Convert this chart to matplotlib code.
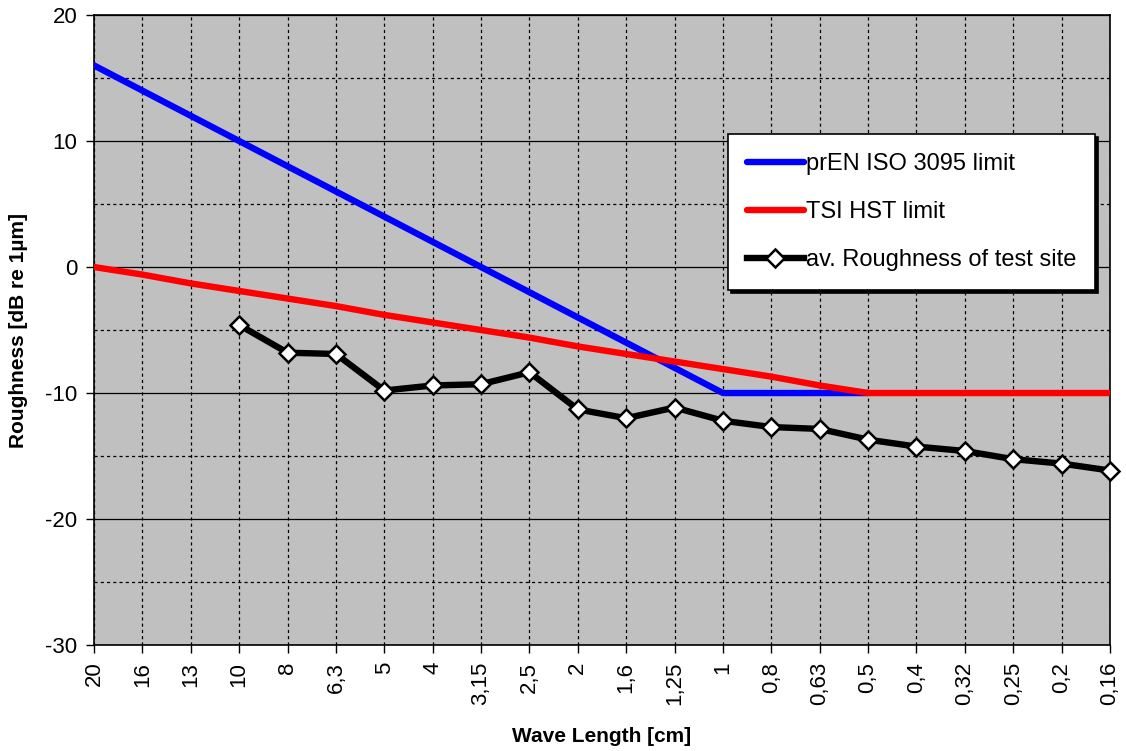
import numpy as np
import matplotlib
matplotlib.use('Agg')
import matplotlib.pyplot as plt
from matplotlib.ticker import MultipleLocator

# Wave length bands (cm) and roughness spectra in dB re 1 um
wave_labels = ['20', '16', '13', '10', '8', '6,3', '5', '4', '3,15', '2,5', '2',
               '1,6', '1,25', '1', '0,8', '0,63', '0,5', '0,4', '0,32', '0,25', '0,2', '0,16']
iso_limit = [16, 14, 12, 10, 8, 6, 4, 2, 0, -2, -4, -6, -8, -10, -10, -10, -10,
             np.nan, np.nan, np.nan, np.nan, np.nan]
tsi_limit = [0, -0.6, -1.3, -1.9, -2.5, -3.1, -3.8, -4.4, -5.0, -5.6, -6.3, -6.9,
             -7.5, -8.1, -8.7, -9.4, -10, -10, -10, -10, -10, -10]
site_rough = [np.nan, np.nan, np.nan, -4.6, -6.8, -6.9, -9.8, -9.4, -9.3, -8.35, -11.3,
              -12.0, -11.15, -12.2, -12.7, -12.85, -13.7, -14.25, -14.6, -15.25, -15.6, -16.15]

plt.rcParams['font.family'] = ['Liberation Sans', 'DejaVu Sans']
plt.rcParams['axes.unicode_minus'] = False

fig = plt.figure(figsize=(11.26, 7.51), dpi=100)
ax = fig.add_axes([0.0835, 0.1411, 0.9023, 0.8389])
ax.set_facecolor('#C0C0C0')

x = np.arange(len(wave_labels))

ax.plot(x, iso_limit, color='#0000FF', lw=4.6, solid_capstyle='round',
        label='prEN ISO 3095 limit', zorder=3)
ax.plot(x, tsi_limit, color='#FF0000', lw=4.6, solid_capstyle='round',
        label='TSI HST limit', zorder=3)
ax.plot(x, site_rough, color='black', lw=4.6, marker='D', markersize=9,
        markerfacecolor='white', markeredgecolor='black', markeredgewidth=1.8,
        label='av. Roughness of test site', zorder=4, clip_on=False)

ax.set_xlim(0, len(wave_labels) - 1)
ax.set_ylim(-30, 20)
ax.set_xticks(x)
ax.set_xticklabels(wave_labels, rotation=90, fontsize=16)
ax.yaxis.set_major_locator(MultipleLocator(10))
ax.yaxis.set_minor_locator(MultipleLocator(5))
ax.tick_params(axis='y', labelsize=16, length=6, width=1, direction='out', pad=6)
ax.tick_params(axis='y', which='minor', length=0)
ax.tick_params(axis='x', length=6, width=1, direction='out', pad=6)

# grid: solid major / dashed minor horizontals, dashed verticals
ax.grid(axis='y', which='major', color='black', lw=0.9, ls='-', zorder=1)
ax.grid(axis='y', which='minor', color='black', lw=0.9, ls=(0, (2.5, 2.5)), zorder=1)
ax.grid(axis='x', which='major', color='black', lw=0.9, ls=(0, (2.5, 2.5)), zorder=1)
ax.set_axisbelow(True)

for s in ax.spines.values():
    s.set_color('black')
    s.set_linewidth(1.2)

ax.set_xlabel('Wave Length [cm]', fontsize=15, fontweight='bold', labelpad=16)
ax.set_ylabel('Roughness [dB re 1µm]', fontsize=15, fontweight='bold', labelpad=12)

leg = ax.legend(loc='upper left', bbox_to_anchor=(0.624, 0.811), borderaxespad=0,
                frameon=True, fancybox=False, edgecolor='black', framealpha=1,
                shadow={'color': 'black', 'alpha': 1}, handlelength=2.4,
                handletextpad=0.1, labelspacing=1.1, borderpad=0.8,
                prop={'family': ['Liberation Sans Narrow', 'Liberation Sans'], 'size': 17})
leg.get_frame().set_linewidth(1.2)

fig.savefig('out.png', dpi=100)
